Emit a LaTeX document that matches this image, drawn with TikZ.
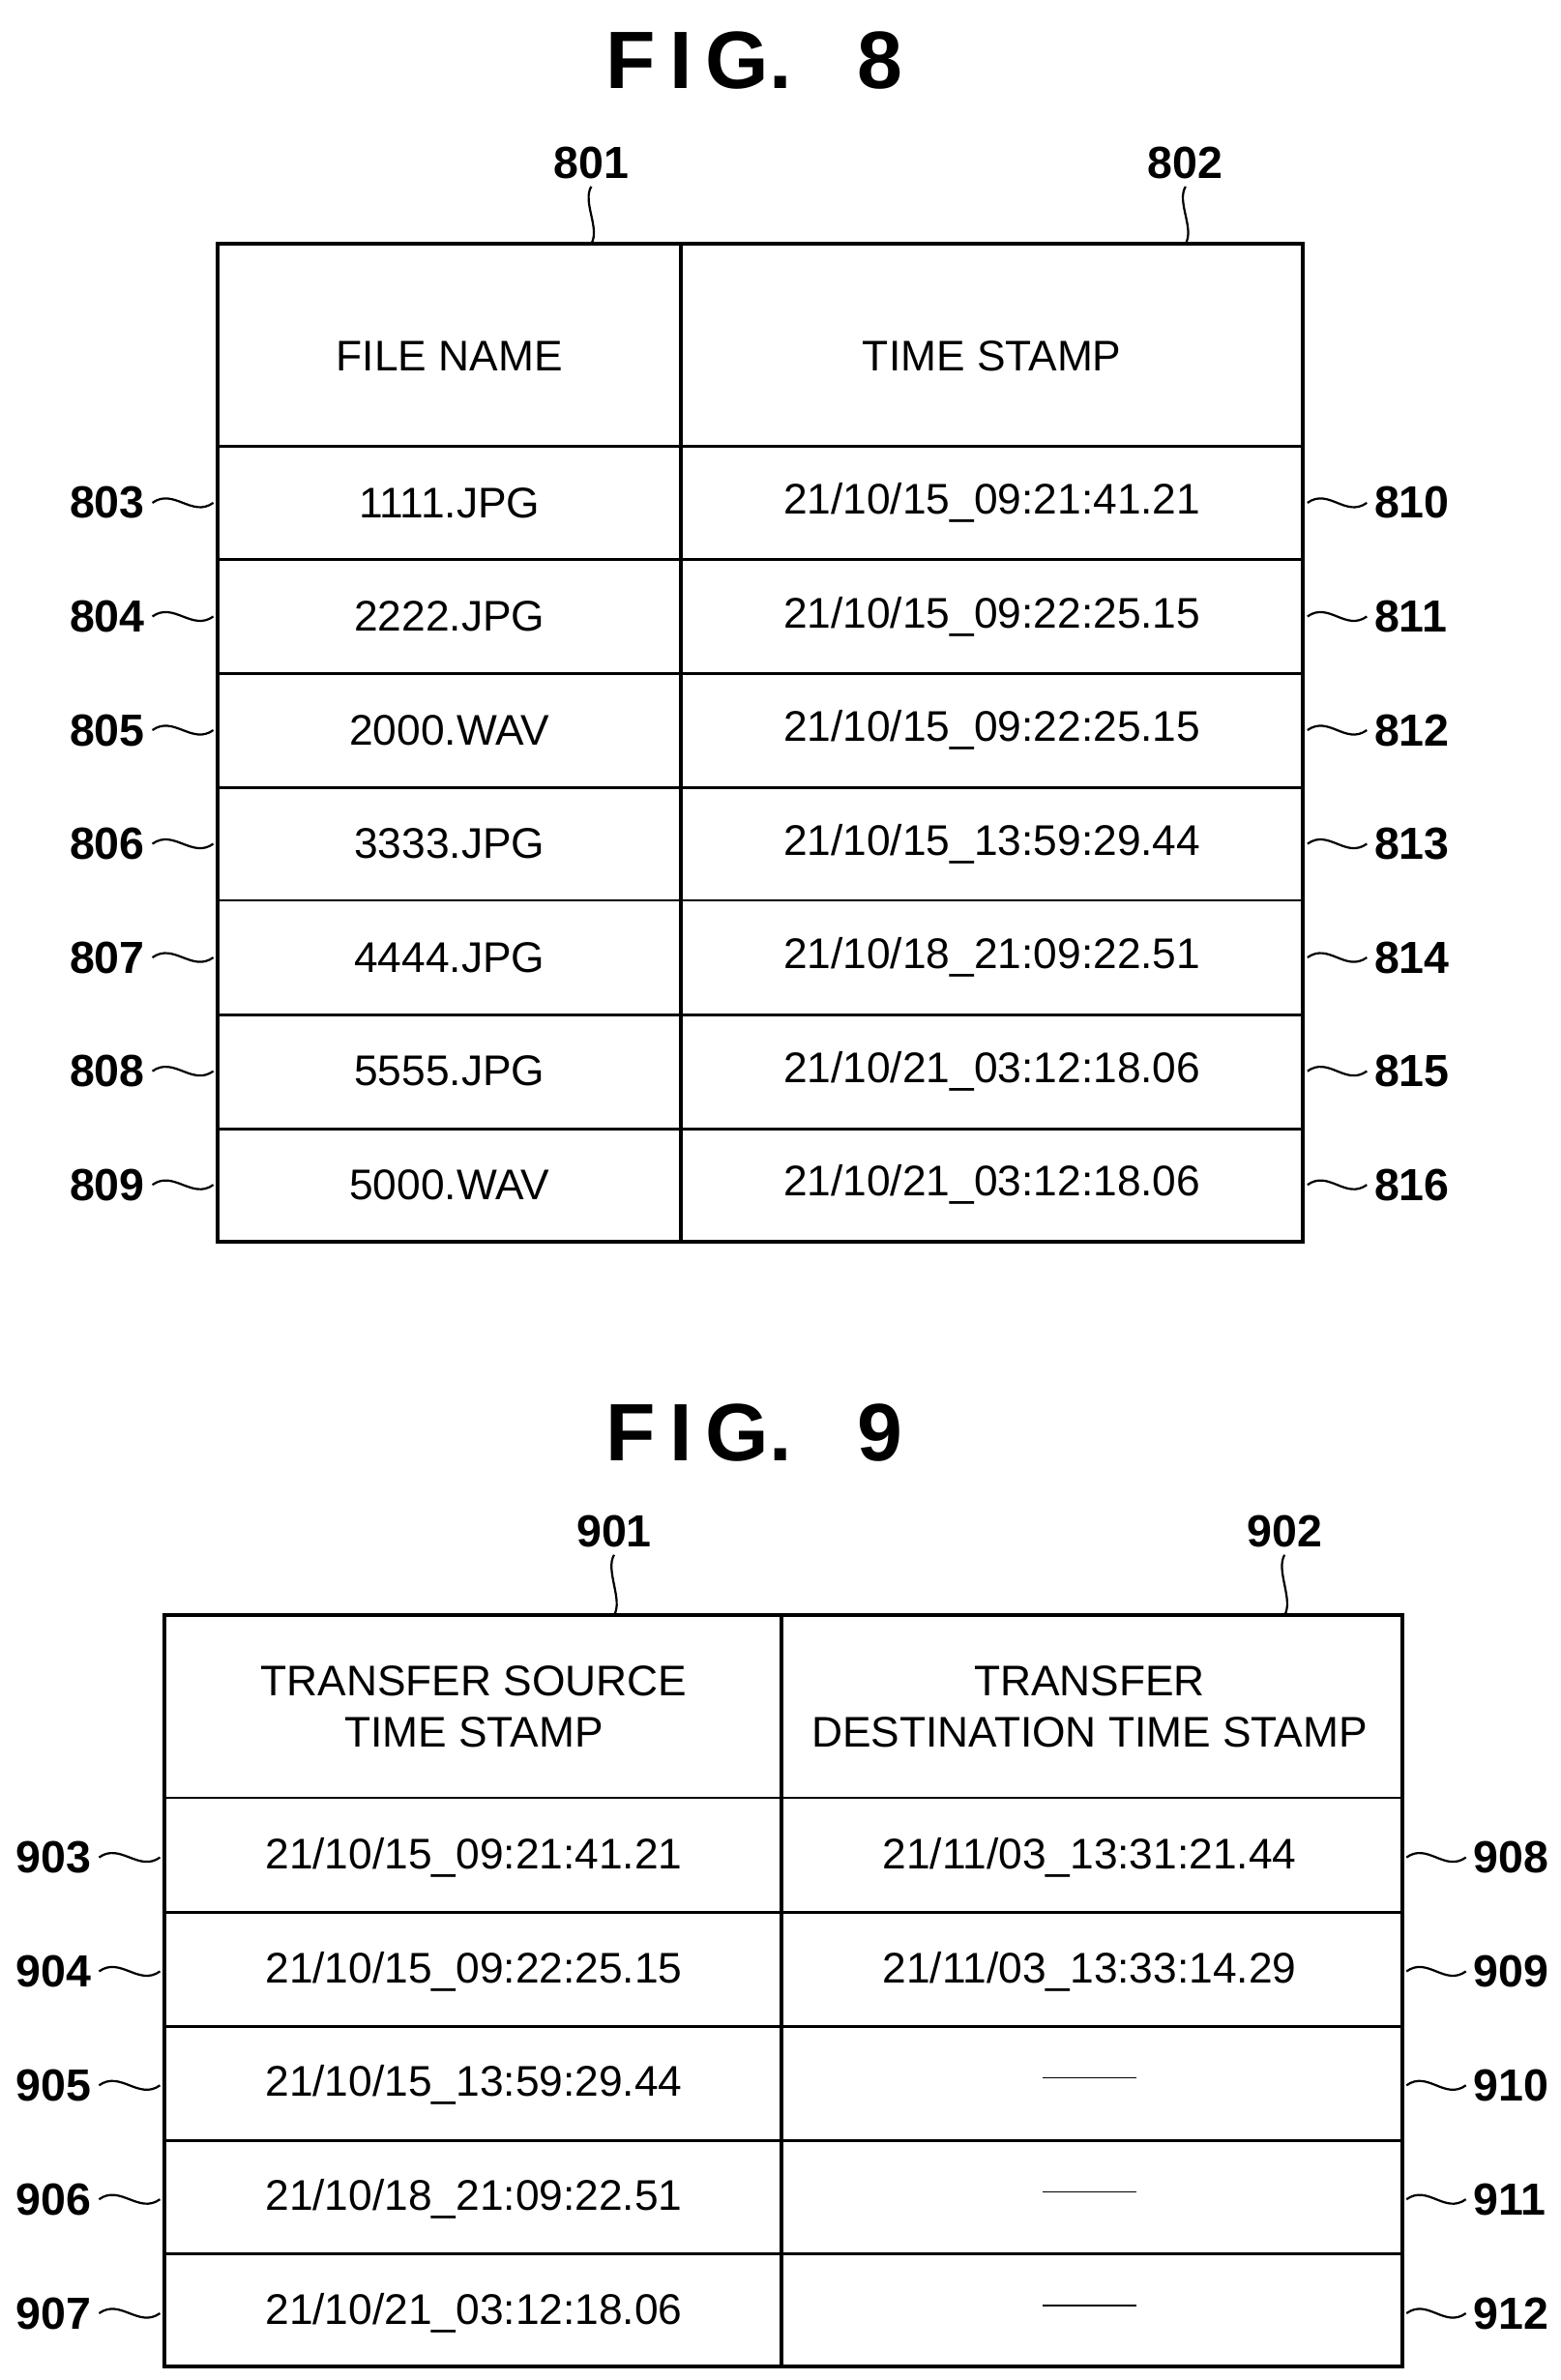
\documentclass[tikz,border=0pt]{standalone}
\usepackage{fontspec}
\setmainfont{Liberation Sans}
\tikzset{
  cell/.style={font=\fontsize{20}{24}\selectfont},
  refnum/.style={font=\bfseries\fontsize{21}{24}\selectfont},
  figtitle/.style={font=\bfseries\fontsize{38}{44}\selectfont},
  frame/.style={line width=1.8pt},
  leader/.style={line width=1pt}
}
\begin{document}
\begin{tikzpicture}[x=0.025cm,y=-0.025cm]
  \useasboundingbox (0,0) rectangle (1024,1562);
  % FIG. 8
  \node[figtitle] (fig8) at (495,40) {F\,I\,G.\hspace{0.8em}8};
  \draw[frame] (143,160) rectangle (855,815);
  \draw[frame] (447,160) -- (447,815);
  \foreach \y in {293,367,442,517,591,666,741}
    \draw[line width=1.2pt] (143,\y) -- (855,\y);
  \node[cell] (h801) at (295,234) {FILE NAME};
  \node[cell] (h802) at (651,234) {TIME STAMP};
  \node[refnum] (n801) at (388,107) {801};
  \node[refnum] (n802) at (778,107) {802};
  \coordinate (t801) at (388,160);
  \coordinate (t802) at (778,160);
  \draw[leader] (n801.south) .. controls +(-6,10) and +(6,-10) .. (t801);
  \draw[leader] (n802.south) .. controls +(-6,10) and +(6,-10) .. (t802);
  \foreach \i/\f/\t/\r [count=\k from 0] in {
      803/1111.JPG/21\slash10\slash15\_09:21:41.21/810,
      804/2222.JPG/21\slash10\slash15\_09:22:25.15/811,
      805/2000.WAV/21\slash10\slash15\_09:22:25.15/812,
      806/3333.JPG/21\slash10\slash15\_13:59:29.44/813,
      807/4444.JPG/21\slash10\slash18\_21:09:22.51/814,
      808/5555.JPG/21\slash10\slash21\_03:12:18.06/815,
      809/5000.WAV/21\slash10\slash21\_03:12:18.06/816} {
    \pgfmathsetmacro{\yy}{330+74.6*\k}
    \node[cell] (f\i) at (295,\yy) {\f};
    \node[cell] (s\i) at (651,\yy) {\t};
    \node[refnum, anchor=east] (n\i) at (100,\yy) {\i};
    \node[refnum, anchor=west] (n\r) at (897,\yy) {\r};
    \coordinate (l\i) at (140,\yy);
    \coordinate (r\r) at (858,\yy);
    \draw[leader] (n\i.east) .. controls +(14,-10) and +(-14,10) .. (l\i);
    \draw[leader] (r\r) .. controls +(14,-10) and +(-14,10) .. (n\r.west);
  }
  % FIG. 9
  \node[figtitle] (fig9) at (495,940) {F\,I\,G.\hspace{0.8em}9};
  \draw[frame] (108,1060) rectangle (920,1553);
  \draw[frame] (513,1060) -- (513,1553);
  \foreach \y in {1180,1255,1330,1405,1479}
    \draw[line width=1.2pt] (108,\y) -- (920,\y);
  \node[cell, align=center] (h901) at (311,1120) {TRANSFER SOURCE\\TIME STAMP};
  \node[cell, align=center] (h902) at (715,1120) {TRANSFER\\DESTINATION TIME STAMP};
  \node[refnum] (n901) at (403,1005) {901};
  \node[refnum] (n902) at (843,1005) {902};
  \coordinate (t901) at (403,1060);
  \coordinate (t902) at (843,1060);
  \draw[leader] (n901.south) .. controls +(-6,10) and +(6,-10) .. (t901);
  \draw[leader] (n902.south) .. controls +(-6,10) and +(6,-10) .. (t902);
  \foreach \i/\s/\d/\r [count=\k from 0] in {
      903/21\slash10\slash15\_09:21:41.21/21\slash11\slash03\_13:31:21.44/908,
      904/21\slash10\slash15\_09:22:25.15/21\slash11\slash03\_13:33:14.29/909,
      905/21\slash10\slash15\_13:59:29.44/\rule[0.35em]{2.2em}{0.8pt}/910,
      906/21\slash10\slash18\_21:09:22.51/\rule[0.35em]{2.2em}{0.8pt}/911,
      907/21\slash10\slash21\_03:12:18.06/\rule[0.35em]{2.2em}{0.8pt}/912} {
    \pgfmathsetmacro{\yy}{1219+74.8*\k}
    \node[cell] (s\i) at (311,\yy) {\s};
    \node[cell] (d\r) at (715,\yy) {\d};
    \node[refnum, anchor=east] (n\i) at (65,\yy) {\i};
    \node[refnum, anchor=west] (n\r) at (962,\yy) {\r};
    \coordinate (l\i) at (105,\yy);
    \coordinate (r\r) at (923,\yy);
    \draw[leader] (n\i.east) .. controls +(14,-10) and +(-14,10) .. (l\i);
    \draw[leader] (r\r) .. controls +(14,-10) and +(-14,10) .. (n\r.west);
  }
\end{tikzpicture}
\end{document}
